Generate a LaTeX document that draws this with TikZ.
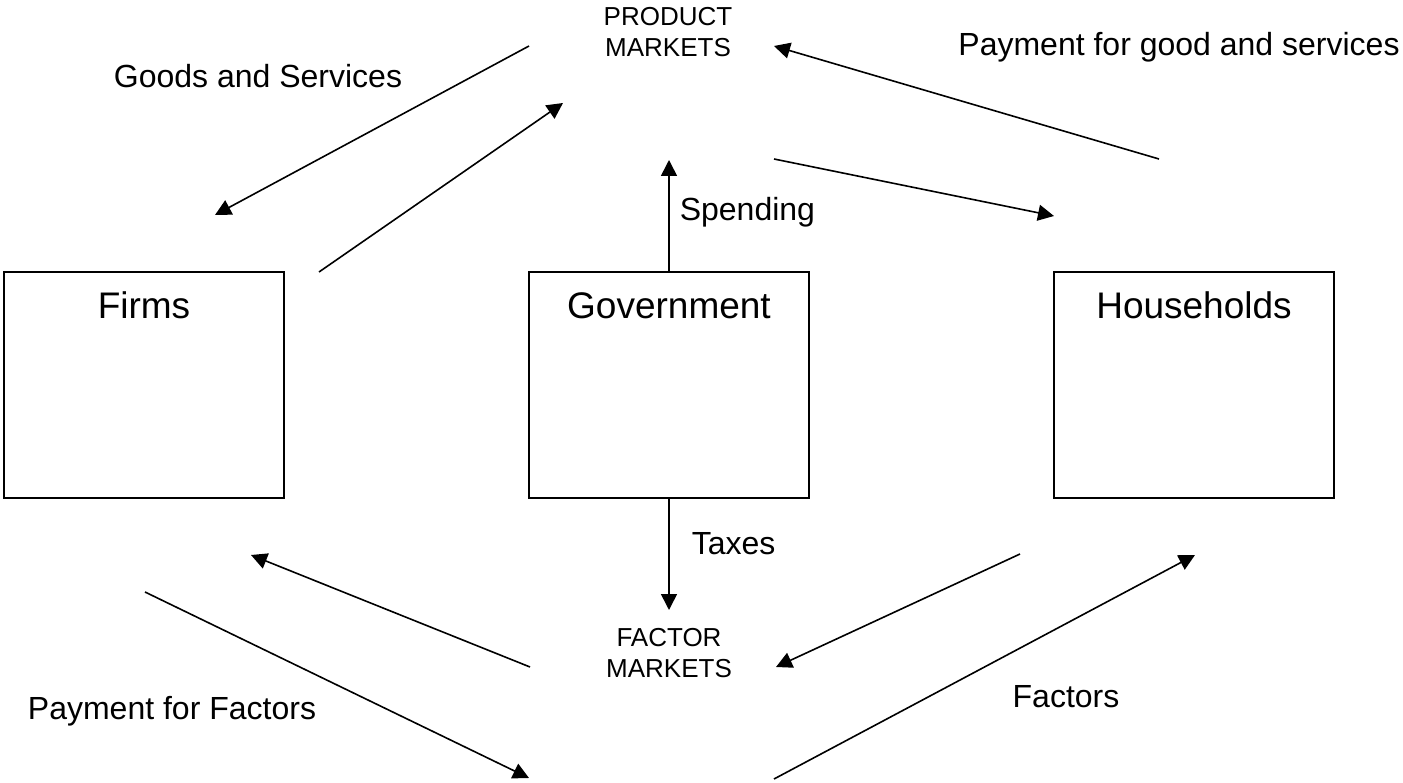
\documentclass[tikz,border=0pt]{standalone}
\usepackage{fontspec}
\setmainfont{Liberation Sans}
\usetikzlibrary{arrows.meta}

\tikzset{
  sector/.style={draw, line width=2.2pt, outer sep=0pt, inner sep=0pt, minimum width=280pt, minimum height=226pt},
  boxtext/.style={anchor=base, inner sep=0pt, yshift=-47pt, font=\fontsize{37}{44}\selectfont},
  market/.style={align=center, inner sep=0pt, font=\fontsize{26}{31}\selectfont},
  note/.style={anchor=base, inner sep=0pt, font=\fontsize{32}{38}\selectfont},
  flow/.style={line width=1.6pt, -{Triangle[length=16pt,width=16pt]}}
}

\begin{document}
\begin{tikzpicture}[x=1pt, y=-1pt]
\useasboundingbox (0,0) rectangle (1403,783);

% sectors
\node[sector, label={[boxtext]north:Firms}] (firms) at (144,385) {};
\node[sector, label={[boxtext]north:Government}] (gov) at (669,385) {};
\node[sector, label={[boxtext]north:Households}] (house) at (1194,385) {};

% markets
\node[market] (pm) at (668,32) {PRODUCT\\MARKETS};
\node[market] (fm) at (669,653) {FACTOR\\MARKETS};

% flow labels
\node[note] (goods) at (258,88) {Goods and Services};
\node[note] (paygoods) at (1179,56) {Payment for good and services};
\node[note] (payfac) at (172,719) {Payment for Factors};
\node[note] (factors) at (1066,707) {Factors};

% ends of the flows
\coordinate (pm-sw) at (529,46);   \coordinate (firms-in) at (215,215);
\coordinate (firms-out) at (319,272); \coordinate (pm-in) at (563,103);
\coordinate (house-out) at (1159,159); \coordinate (pm-ne) at (774,46);
\coordinate (pm-se) at (774,159);  \coordinate (house-in) at (1054,216);
\coordinate (spend) at (669,160);  \coordinate (tax) at (669,610);
\coordinate (fm-nw) at (530,667);  \coordinate (firms-pay) at (251,555);
\coordinate (firms-pay2) at (145,592); \coordinate (fm-sw) at (529,778);
\coordinate (house-fac) at (1020,554); \coordinate (fm-ne) at (776,667);
\coordinate (fm-se) at (774,779);  \coordinate (house-pay) at (1195,555);

% product market flows
\draw[flow] (pm-sw) -- (firms-in);
\draw[flow] (firms-out) -- (pm-in);
\draw[flow] (house-out) -- (pm-ne);
\draw[flow] (pm-se) -- (house-in);

% government
\draw[flow] (gov.north) -- (spend) node[note, anchor=base west, pos=.464, xshift=10pt]{Spending};
\draw[flow] (gov.south) -- (tax) node[note, anchor=base west, pos=.5, xshift=22pt]{Taxes};

% factor market flows
\draw[flow] (fm-nw) -- (firms-pay);
\draw[flow] (firms-pay2) -- (fm-sw);
\draw[flow] (house-fac) -- (fm-ne);
\draw[flow] (fm-se) -- (house-pay);
\end{tikzpicture}
\end{document}
